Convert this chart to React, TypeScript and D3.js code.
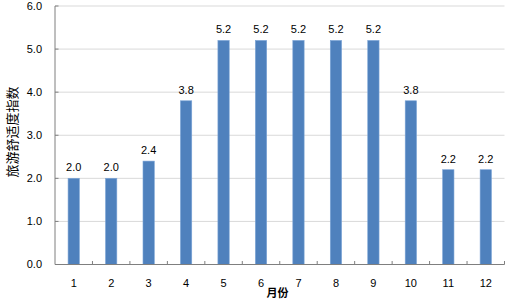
import React from "react";
import * as d3 from "d3";

const months = ["1", "2", "3", "4", "5", "6", "7", "8", "9", "10", "11", "12"];
const values = [2.0, 2.0, 2.4, 3.8, 5.2, 5.2, 5.2, 5.2, 5.2, 3.8, 2.2, 2.2];
const yTicks = [0, 1, 2, 3, 4, 5, 6];
const yTitle = "旅游舒适度指数";
const xTitle = "月份";

export default function App() {
  const W = 509, H = 300;
  const left = 55, right = 504.5, top = 6, bottom = 264.5;
  const x = d3.scaleBand<string>().domain(months).range([left, right]).paddingInner(0).paddingOuter(0);
  const y = d3.scaleLinear().domain([0, 6]).range([bottom, top]);
  const barW = 11.3;
  const font = "'Liberation Sans', Arial, sans-serif";
  const boundaries = months.map((_, i) => left + x.step() * (i + 1));
  return (
    <svg width={W} height={H} style={{ position: "absolute", left: 0, top: 0, background: "#fff" }}>
      {yTicks.map((t) => (
        <g key={t}>
          {t > 0 && <line x1={left} x2={right} y1={y(t)} y2={y(t)} stroke="#d9d9d9" strokeWidth={1} />}
          <line x1={left} x2={left + 3.5} y1={y(t)} y2={y(t)} stroke="#7f7f7f" strokeWidth={1} />
          <text x={42} y={y(t)} dy="0.35em" textAnchor="end" fontFamily={font} fontSize={11} fill="#000">
            {d3.format(".1f")(t)}
          </text>
        </g>
      ))}
      {months.map((m, i) => {
        const cx = (x(m) as number) + x.bandwidth() / 2;
        return (
          <g key={m}>
            <rect x={cx - barW / 2} y={y(values[i])} width={barW} height={bottom - y(values[i])} fill="#4f81bd" stroke="#7aa3d6" strokeWidth={0.6} />
            <text x={cx} y={y(values[i]) - 7} textAnchor="middle" fontFamily={font} fontSize={11} fill="#000">
              {d3.format(".1f")(values[i])}
            </text>
            <text x={cx} y={287} textAnchor="middle" fontFamily={font} fontSize={11} fill="#000">
              {m}
            </text>
          </g>
        );
      })}
      <line x1={left} x2={left} y1={top} y2={bottom} stroke="#7f7f7f" strokeWidth={1} />
      <line x1={left} x2={right} y1={bottom} y2={bottom} stroke="#7f7f7f" strokeWidth={1} />
      {boundaries.map((bx, i) => (
        <line key={i} x1={bx} x2={bx} y1={bottom} y2={bottom - 3.5} stroke="#7f7f7f" strokeWidth={1} />
      ))}
      <text transform={`translate(12,132) rotate(-90)`} textAnchor="middle" dy="0.35em" fontFamily="'Noto Sans CJK SC', sans-serif" fontSize={13} fill="#000">
        {yTitle}
      </text>
      <text x={277.5} y={297} textAnchor="middle" fontFamily="'Noto Sans CJK SC', sans-serif" fontSize={11} fontWeight={600} fill="#000">
        {xTitle}
      </text>
    </svg>
  );
}
